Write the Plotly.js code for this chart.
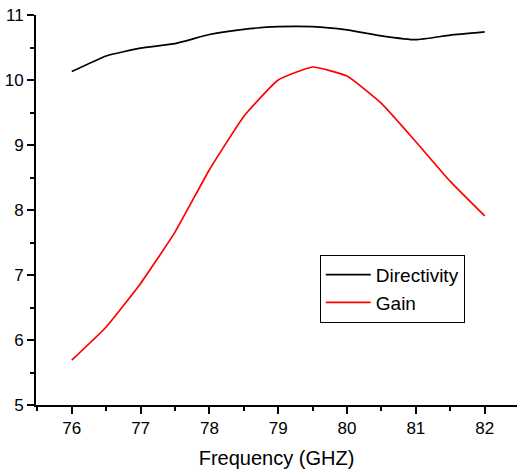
<!DOCTYPE html>
<html>
<head>
<meta charset="utf-8">
<script src="https://cdn.plot.ly/plotly-3.0.1.min.js"></script>
<style>html,body{margin:0;padding:0;background:#fff;}#chart{width:518px;height:471px;}</style>
</head>
<body>
<div id="chart"></div>
<script>
const frequency = [76, 76.5, 77, 77.5, 78, 78.5, 79, 79.5, 80, 80.5, 81, 81.5, 82];
const directivity = [10.13, 10.37, 10.49, 10.56, 10.70, 10.78, 10.82, 10.82, 10.77, 10.68, 10.62, 10.69, 10.74];
const gain = [5.69, 6.20, 6.87, 7.66, 8.62, 9.44, 10.0, 10.20, 10.06, 9.64, 9.05, 8.44, 7.91];
const xTicks = [76, 77, 78, 79, 80, 81, 82];
const yTicks = [5, 6, 7, 8, 9, 10, 11];

const font = 'Arial, "Liberation Sans", sans-serif';
const traces = [
  {x: frequency, y: directivity, name: 'Directivity', type: 'scatter', mode: 'lines',
   line: {color: '#000000', width: 1.7, shape: 'spline', smoothing: 0.4}},
  {x: frequency, y: gain, name: 'Gain', type: 'scatter', mode: 'lines',
   line: {color: '#ff0000', width: 1.7, shape: 'spline', smoothing: 0.4}}
];
const layout = {
  width: 518, height: 471,
  margin: {l: 36, r: 1, t: 15, b: 66},
  paper_bgcolor: '#ffffff', plot_bgcolor: '#ffffff',
  font: {family: font, size: 16, color: '#000'},
  showlegend: true,
  legend: {x: 0.59, y: 0.385, xanchor: 'left', yanchor: 'top',
    bordercolor: '#000', borderwidth: 1, bgcolor: '#fff',
    font: {family: font, size: 19, color: '#000'}, itemwidth: 45, tracegroupgap: 0},
  xaxis: {
    range: [75.48, 82.47], tickvals: xTicks, ticktext: xTicks.map(String),
    showgrid: false, zeroline: false, showline: true, linecolor: '#000', linewidth: 2,
    ticks: 'outside', ticklen: 7, tickwidth: 2, tickcolor: '#000',
    minor: {dtick: 0.5, tick0: 75.5, ticks: 'outside', ticklen: 4, tickwidth: 2, tickcolor: '#000', showgrid: false},
    tickfont: {family: font, size: 17, color: '#000'},
    title: {text: 'Frequency (GHZ)', font: {family: font, size: 20, color: '#000'}, standoff: 14}
  },
  yaxis: {
    range: [5, 11], tickvals: yTicks, ticktext: yTicks.map(String),
    showgrid: false, zeroline: false, showline: true, linecolor: '#000', linewidth: 2,
    ticks: 'outside', ticklen: 7, tickwidth: 2, tickcolor: '#000',
    minor: {dtick: 0.5, tick0: 5, ticks: 'outside', ticklen: 4, tickwidth: 2, tickcolor: '#000', showgrid: false},
    tickfont: {family: font, size: 17, color: '#000'}
  }
};
Plotly.newPlot('chart', traces, layout, {displayModeBar: false, staticPlot: true});
</script>
</body>
</html>
